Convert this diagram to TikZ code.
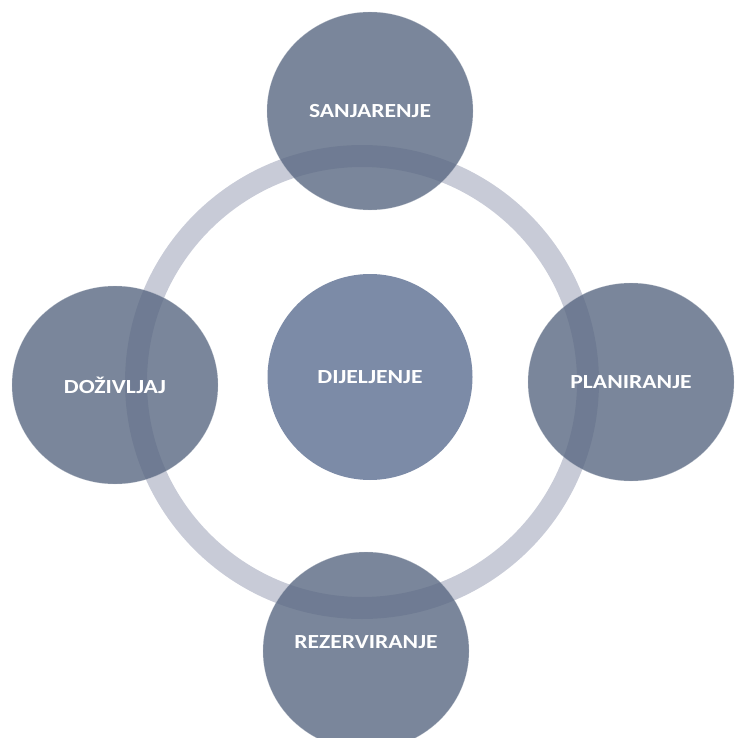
\documentclass[tikz,border=0pt]{standalone}
\usepackage{fontspec}
\setmainfont{Carlito}
\usepackage{graphicx}
\usepackage{tikz}
\usetikzlibrary{positioning}
\usetikzlibrary{shapes.geometric}
\definecolor{phasefill}{RGB}{89,104,130}
\definecolor{corefill}{RGB}{124,139,167}
\definecolor{ringcol}{RGB}{200,203,215}
\newcommand{\widelabel}[1]{\scalebox{1.18}[1]{#1}}
\tikzstyle{phase} = [ellipse, minimum width=206pt, minimum height=198pt, fill=phasefill, fill opacity=0.8, text opacity=1, text=white, font=\fontsize{20}{24}\selectfont\bfseries, draw=white!60!phasefill, draw opacity=0.5]
\tikzstyle{core} = [ellipse, minimum width=205pt, minimum height=206pt, fill=corefill, text=white, font=\fontsize{20}{24}\selectfont\bfseries]
\tikzstyle{ring} = [draw=ringcol, line width=22pt]

\begin{document}
\begin{tikzpicture}[x=1pt, y=-1pt]
    \useasboundingbox (0,0) rectangle (735,738);
    \clip (0,0) rectangle (735,738);
    % Centre and ring
    \coordinate (ringc) at (362,382);
    \draw [ring] (ringc) circle [radius=226];
    \node (dijeljenje) [core] at (370,377) {\widelabel{DIJELJENJE}};
    % Phases
    \node (sanjarenje) [phase] at (370,111) {\widelabel{SANJARENJE}};
    \node (planiranje) [phase] at (631,382) {\widelabel{PLANIRANJE}};
    \node (rezerviranje) [phase] at (366,651) {};
    \node (dozivljaj) [phase] at (115,385) {\widelabel{DOŽIVLJAJ}};
    \node (rezlabel) at ([yshift=9pt]rezerviranje.center) [text=white, font=\fontsize{20}{24}\selectfont\bfseries] {\widelabel{REZERVIRANJE}};
\end{tikzpicture}
\end{document}
